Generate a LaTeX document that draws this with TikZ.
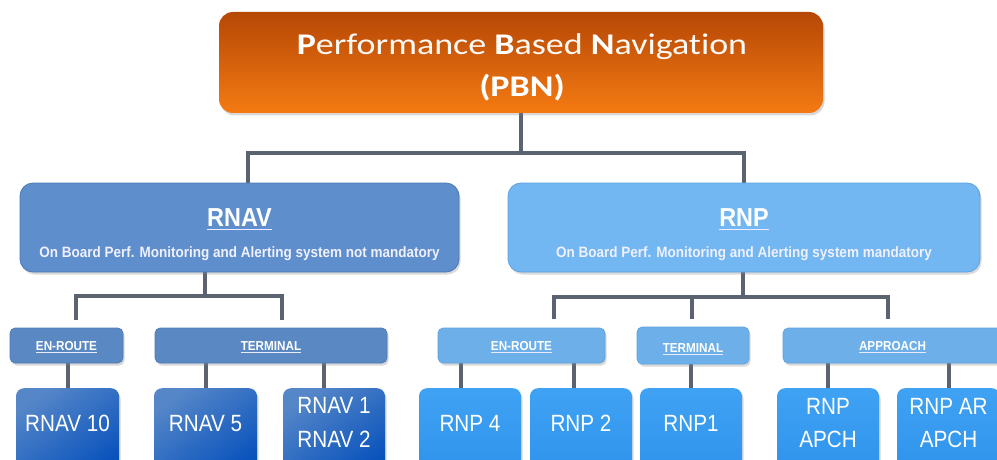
\documentclass[tikz,border=0pt]{standalone}
\usepackage{fontspec}
\setmainfont{Liberation Sans}
\newfontfamily\titlefont[Ligatures={NoCommon},FakeStretch=1.2]{Carlito}
\newfontfamily\narrowfont[FakeStretch=0.9]{Liberation Sans}
\newfontfamily\leaffont[FakeStretch=0.88]{Liberation Sans}
\usetikzlibrary{shadows,backgrounds}

\definecolor{pbnTop}{HTML}{B64806}
\definecolor{pbnBot}{HTML}{F47A12}
\definecolor{rnavBlue}{HTML}{5E8ECB}
\definecolor{rnavEdge}{HTML}{4C7AB6}
\definecolor{rnpBlue}{HTML}{72B6F2}
\definecolor{rnpEdge}{HTML}{5DA2E0}
\definecolor{leafLight}{HTML}{5586C8}
\definecolor{leafDark}{HTML}{0852BC}
\definecolor{rnpLeafTop}{HTML}{3FA2F3}
\definecolor{rnpLeafBot}{HTML}{2E92EC}
\definecolor{linkGray}{HTML}{5B6371}

\tikzset{
  shade box/.style={rectangle, inner sep=0pt,
    drop shadow={opacity=0.3, shadow xshift=1.5pt, shadow yshift=-2.5pt}},
  pbnbox/.style={shade box, rounded corners=14pt, top color=pbnTop, bottom color=pbnBot},
  rnavbox/.style={shade box, rounded corners=13pt, fill=rnavBlue, draw=rnavEdge, line width=0.8pt},
  rnpbox/.style={shade box, rounded corners=13pt, fill=rnpBlue, draw=rnpEdge, line width=0.8pt},
  rnavsub/.style={shade box, rounded corners=5pt, fill=rnavBlue!96!black, draw=rnavEdge, line width=0.6pt,
    minimum height=35pt},
  rnpsub/.style={shade box, rounded corners=5pt, fill=rnpBlue!96!black, draw=rnpEdge, line width=0.6pt,
    minimum height=35pt},
  rnavleaf/.style={shade box, rounded corners=8pt, minimum width=103pt, minimum height=90pt,
    anchor=north, top color=leafLight, bottom color=leafDark, shading angle=35},
  rnpleaf/.style={shade box, rounded corners=8pt, minimum width=102pt, minimum height=90pt,
    anchor=north, top color=rnpLeafTop, bottom color=rnpLeafBot},
  lbl/.style={inner sep=0pt, text=white, anchor=base},
  titletext/.style={lbl, font=\titlefont\fontsize{30}{36}\selectfont, text=white!96!orange},
  headfont/.style={font=\narrowfont\bfseries\fontsize{26}{30}\selectfont},
  notefont/.style={font=\narrowfont\bfseries\fontsize{15}{18}\selectfont, text=white!94!blue},
  subfont/.style={font=\narrowfont\bfseries\fontsize{13}{15}\selectfont},
  leaftext/.style={lbl, font=\leaffont\fontsize{23.5}{28}\selectfont},
  link/.style={draw=linkGray, line width=4pt},
}

% underlined white label: name, position, style, text, rule offset, rule width
\newcommand\ullabel[6]{%
  \node[lbl,#3] (#1) at (#2) {#4};
  \draw[white!92!blue, line width=#6] ([yshift=-#5]#1.base west) -- ([yshift=-#5]#1.base east);}

\begin{document}
\begin{tikzpicture}[x=1pt,y=-1pt]
\useasboundingbox (0,0) rectangle (997,460);
\clip (0,0) rectangle (997,460);

% root
\node[pbnbox, minimum width=604pt, minimum height=101pt] (pbn) at (521,62.5) {};
\node[titletext] (pbnName) at (522,55)
  {\textcolor{white}{\textbf{P}}erformance \textcolor{white}{\textbf{B}}ased \textcolor{white}{\textbf{N}}avigation};
\node[titletext, text=white] (pbnAbbr) at (522,96) {\textbf{(PBN)}};

% second level
\node[rnavbox, minimum width=439pt, minimum height=89pt] (rnav) at (239.5,227.5) {};
\node[rnpbox,  minimum width=472pt, minimum height=89pt] (rnp)  at (744,227.5) {};
\ullabel{rnavHead}{239.5,226}{headfont}{RNAV}{3.5pt}{1.8pt}
\node[lbl,notefont] (rnavNote) at (239.5,257) {On Board Perf. Monitoring and Alerting system not mandatory};
\ullabel{rnpHead}{744,226}{headfont}{RNP}{3.5pt}{1.8pt}
\node[lbl,notefont] (rnpNote) at (744,257) {On Board Perf. Monitoring and Alerting system mandatory};

% flight phases
\node[rnavsub, minimum width=113pt] (rnavEn)   at (66.5,345.5) {};
\node[rnavsub, minimum width=232pt] (rnavTerm) at (271,345.5) {};
\node[rnpsub,  minimum width=167pt] (rnpEn)    at (521.5,345.5) {};
\node[rnpsub,  minimum width=112pt, minimum height=37pt] (rnpTerm) at (693,345.5) {};
\node[rnpsub,  minimum width=219pt] (rnpApp)   at (892.5,345.5) {};
\ullabel{rnavEnT}{66.5,350}{subfont}{EN-ROUTE}{2.4pt}{1.1pt}
\ullabel{rnavTermT}{271,350}{subfont}{TERMINAL}{2.4pt}{1.1pt}
\ullabel{rnpEnT}{521.5,350}{subfont}{EN-ROUTE}{2.4pt}{1.1pt}
\ullabel{rnpTermT}{693,352}{subfont}{TERMINAL}{2.4pt}{1.1pt}
\ullabel{rnpAppT}{892.5,350}{subfont}{APPROACH}{2.4pt}{1.1pt}

% navigation specifications
\node[rnavleaf] (r10)  at (67.5,388)  {};
\node[rnavleaf] (r5)   at (205.5,388) {};
\node[rnavleaf, minimum width=102pt] (r12) at (334,388) {};
\node[rnpleaf]  (p4)   at (470,388)   {};
\node[rnpleaf]  (p2)   at (581,388)   {};
\node[rnpleaf]  (p1)   at (691,388)   {};
\node[rnpleaf]  (papch) at (828,388)  {};
\node[rnpleaf, minimum width=103pt] (parapch) at (948.5,388) {};

\node[leaftext] (r10T)  at (67.5,431)  {RNAV 10};
\node[leaftext] (r5T)   at (205.5,431) {RNAV 5};
\node[leaftext] (r12a)  at (334,413)   {RNAV 1};
\node[leaftext] (r12b)  at (334,447)   {RNAV 2};
\node[leaftext] (p4T)   at (470,431)   {RNP 4};
\node[leaftext] (p2T)   at (581,431)   {RNP 2};
\node[leaftext] (p1T)   at (691,431)   {RNP1};
\node[leaftext] (papa)  at (828,414)   {RNP};
\node[leaftext] (papb)  at (828,447)   {APCH};
\node[leaftext] (para)  at (948.5,414) {RNP AR};
\node[leaftext] (parb)  at (948.5,447) {APCH};

% connector junctions
\coordinate (rnavDrop) at (248,183);
\coordinate (rnavStem) at (205,296);
\coordinate (rnavEnD)  at (76,320);
\coordinate (rnavTeD)  at (282,320);
\coordinate (rnpStem)  at (743,297);
\coordinate (rnpEnD)   at (554,319);
\coordinate (rnpTeD)   at (692,319);
\coordinate (rnpApD)   at (888,319);

\begin{pgfonlayer}{background}
  \draw[link] (pbn.south) -- ++(0,40) -| (rnavDrop);
  \draw[link] (pbn.south) -- ++(0,40) -| (rnp.north);
  \draw[link] (rnav.south -| rnavStem) -- (rnavStem);
  \draw[link] (rnavEnD) |- (rnavStem) -| (rnavTeD);
  \draw[link] (rnp.south -| rnpStem) -- (rnpStem);
  \draw[link] (rnpEnD) |- (rnpStem) -| (rnpApD);
  \draw[link] (rnpStem -| rnpTeD) -- (rnpTeD);
  \draw[link] (rnavEn.south -| r10.north) -- (r10.north);
  \draw[link] (rnavTerm.south -| r5.north) -- (r5.north);
  \draw[link] ([xshift=-10pt]r12.north |- rnavTerm.south) -- ([xshift=-10pt]r12.north);
  \draw[link] ([xshift=-9pt]p4.north |- rnpEn.south) -- ([xshift=-9pt]p4.north);
  \draw[link] ([xshift=-7pt]p2.north |- rnpEn.south) -- ([xshift=-7pt]p2.north);
  \draw[link] (rnpTerm.south -| p1.north) -- (p1.north);
  \draw[link] (rnpApp.south -| papch.north) -- (papch.north);
  \draw[link] (rnpApp.south -| parapch.north) -- (parapch.north);
\end{pgfonlayer}
\end{tikzpicture}
\end{document}
